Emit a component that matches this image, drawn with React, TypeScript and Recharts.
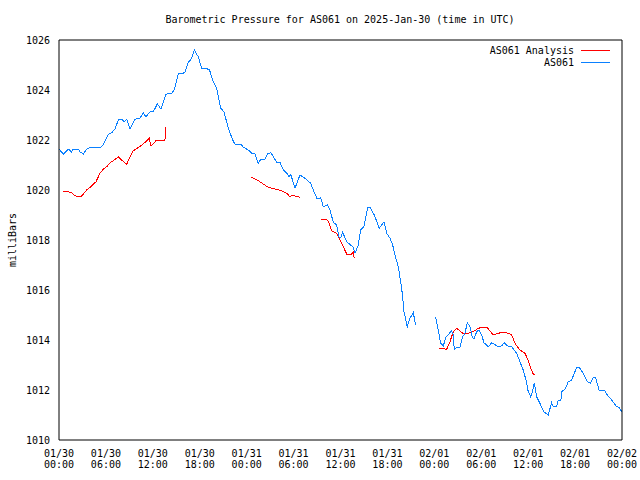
import { LineChart, Line, XAxis, YAxis, Legend } from 'recharts'

// hours since 01/30 00:00 UTC, null = gap in the record
const analysisHours = [
  0.47, 1.19, 1.62, 2.05, 2.47, 2.81, 3.11, 3.54, 4.18, 4.73, 5.24, 5.66, 6.1, 6.52, 7.07, 7.58,
  8.15, 8.66, 9.08, 9.5, 10.01, 10.58, 11.21, 11.55, 11.76, 12.49, 13.55, 13.68, 14,
  24.55, 25.19, 25.7, 26.13, 26.64, 27.2, 27.84, 28.48, 29.12, 29.54, 29.89, 30.31, 30.82, 31.5,
  33.5, 34.14, 34.44, 34.87, 35.51, 35.93, 36.36, 36.79, 37.43, 37.63, 37.76, 39,
  48.63, 49.58, 50.0, 50.42, 50.86, 51.62, 52.34, 52.98, 53.62, 54.26, 54.69, 55.12, 55.54,
  56.18, 56.82, 57.46, 57.89, 58.31, 58.95, 59.59, 59.89, 60.32, 60.65, 60.87,
]
const analysisMb = [
  1019.96, 1019.93, 1019.89, 1019.77, 1019.73, 1019.73, 1019.84, 1020.0, 1020.16, 1020.33,
  1020.67, 1020.83, 1020.93, 1021.09, 1021.2, 1021.33, 1021.16, 1021.03, 1021.33, 1021.57,
  1021.67, 1021.8, 1021.96, 1022.07, 1021.76, 1022.0, 1022.0, 1022.53, null,
  1020.51, 1020.43, 1020.33, 1020.24, 1020.13, 1020.07, 1020.03, 1019.96, 1019.87, 1019.73,
  1019.8, 1019.74, 1019.71, null,
  1018.83, 1018.83, 1018.76, 1018.37, 1018.27, 1018.0, 1017.73, 1017.44, 1017.44, 1017.51, 1017.27, null,
  1013.67, 1013.63, 1013.93, 1014.33, 1014.47, 1014.27, 1014.27, 1014.33, 1014.47, 1014.51,
  1014.51, 1014.37, 1014.2, 1014.27, 1014.31, 1014.27, 1014.2, 1013.87, 1013.6, 1013.47,
  1013.27, 1012.87, 1012.64, 1012.64,
]

const stationHours = [
  0, 0.55, 1.19, 1.62, 1.83, 2.47, 2.69, 3.11, 3.54, 4.18, 5.03, 5.24, 5.66, 6.3, 6.74, 7.16,
  7.58, 8.02, 8.31, 8.66, 9.08, 9.72, 10.36, 10.78, 11.09, 11.64, 12.06, 12.57, 13.04, 13.68,
  14.41, 14.74, 15.26, 15.9, 16.15, 16.46, 16.97, 17.3, 17.81, 18.25, 19.22, 19.73, 20.17,
  20.68, 21.1, 21.65, 22.21, 22.51, 23.27, 23.57, 24.21, 24.64, 25.06, 25.49, 25.79, 26.34,
  26.64, 27.11, 27.84, 28.26, 28.61, 29.12, 29.45, 29.63, 30.18, 30.82, 31.46, 32.19, 32.61,
  33.03, 33.47, 33.8, 34.31, 34.65, 35.08, 35.51, 35.81, 36.06, 36.28, 36.79, 37.63, 37.85,
  38.27, 38.58, 39.0, 39.48, 39.77, 40.32, 40.96, 41.56, 41.91, 42.33, 42.67, 42.97, 43.39,
  43.82, 43.93, 44.12, 44.54, 44.88, 45.31, 45.61, 46.5,
  48.17, 48.5, 48.81, 49.14, 49.49, 50.22, 50.42, 50.55, 50.86, 51.28, 51.62, 51.92, 52.21,
  52.56, 52.85, 53.07, 53.41, 53.71, 54.05, 54.35, 54.9, 55.33, 56.18, 56.61, 56.95, 57.33,
  57.89, 58.53, 58.95, 59.37, 59.72, 60.01, 60.32, 60.58, 60.78, 61.09, 61.6, 62.02, 62.57,
  63.0, 63.21, 63.64, 63.85, 64.19, 64.28, 64.71, 65.13, 65.56, 66.2, 66.53, 67.05, 67.56,
  67.99, 68.25, 68.63, 69.05, 69.82, 70.11, 70.68, 71.32, 71.65, 71.96,
]
const stationMb = [
  1021.64, 1021.44, 1021.64, 1021.52, 1021.64, 1021.64, 1021.52, 1021.44, 1021.64, 1021.72,
  1021.72, 1021.68, 1021.8, 1022.23, 1022.29, 1022.44, 1022.8, 1022.83, 1022.73, 1022.83,
  1022.44, 1022.83, 1022.87, 1023.09, 1022.93, 1023.12, 1023.13, 1023.44, 1023.24, 1023.83,
  1023.87, 1024.0, 1024.64, 1024.67, 1024.73, 1025.07, 1025.27, 1025.6, 1025.33, 1024.87,
  1024.83, 1024.33, 1024.07, 1023.27, 1023.13, 1022.47, 1022.0, 1021.83, 1021.83, 1021.71,
  1021.6, 1021.47, 1021.44, 1021.07, 1021.23, 1021.23, 1021.44, 1021.49, 1021.11, 1021.11,
  1020.84, 1020.67, 1020.53, 1020.63, 1020.07, 1020.6, 1020.47, 1020.27, 1019.93, 1019.64,
  1019.69, 1019.33, 1019.4, 1019.2, 1018.71, 1018.6, 1018.11, 1018.11, 1018.31, 1017.93,
  1017.71, 1017.47, 1017.8, 1018.4, 1018.53, 1019.31, 1019.31, 1019.0, 1018.47, 1018.72,
  1018.27, 1018.07, 1017.8, 1017.4, 1016.93, 1016.07, 1015.76, 1015.13, 1014.53, 1014.87,
  1015.09, 1014.6, null,
  1014.91, 1014.4, 1013.87, 1013.76, 1014.11, 1014.37, 1014.2, 1013.6, 1013.71, 1013.71,
  1014.13, 1014.27, 1014.69, 1014.53, 1014.13, 1014.03, 1014.33, 1014.4, 1014.2, 1013.89,
  1013.73, 1013.89, 1013.73, 1013.77, 1013.89, 1013.77, 1013.73, 1013.47, 1013.13, 1012.8,
  1012.4, 1011.93, 1011.73, 1011.97, 1012.29, 1011.73, 1011.4, 1011.13, 1011.0, 1011.49,
  1011.33, 1011.36, 1011.6, 1011.6, 1011.93, 1012.03, 1012.33, 1012.4, 1012.91, 1012.91,
  1012.67, 1012.33, 1012.27, 1012.47, 1012.51, 1012.0, 1011.97, 1011.8, 1011.6, 1011.33,
  1011.31, 1011.13,
]

const majorHours = [0, 6, 12, 18, 24, 30, 36, 42, 48, 54, 60, 66, 72]
const minorHours = [
  2, 4, 8, 10, 14, 16, 20, 22, 26, 28, 32, 34, 38, 40, 44, 46, 50, 52, 56, 58, 62, 64, 68, 70,
]
const tickDates = ['01/30', '01/30', '01/30', '01/30', '01/31', '01/31', '01/31', '01/31', '02/01', '02/01', '02/01', '02/01', '02/02']
const tickTimes = ['00:00', '06:00', '12:00', '18:00', '00:00', '06:00', '12:00', '18:00', '00:00', '06:00', '12:00', '18:00', '00:00']
const pressureTicks = [1010, 1012, 1014, 1016, 1018, 1020, 1022, 1024, 1026]
const seriesOrder = ['AS061 Analysis', 'AS061']

const FONT = "'DejaVu Sans Mono', monospace"
const RED = '#ff0000'
const BLUE = '#0a80ff'

const rows = (hours: number[], mb: (number | null)[]) => hours.map((t, i) => ({ t, v: mb[i] }))
const analysisData = rows(analysisHours, analysisMb)
const stationData = rows(stationHours, stationMb)

function TimeTick({ x, y, payload }: any) {
  const i = majorHours.indexOf(payload.value)
  return (
    <text x={x} y={y} textAnchor="middle" fontFamily={FONT} fontSize={10} fill="#000">
      <tspan x={x} dy={17}>{tickDates[i]}</tspan>
      <tspan x={x} dy={11}>{tickTimes[i]}</tspan>
    </text>
  )
}

function renderLegend({ payload }: any) {
  const items = [...(payload || [])].sort(
    (a: any, b: any) => seriesOrder.indexOf(a.value) - seriesOrder.indexOf(b.value),
  )
  return (
    <svg width={150} height={30}>
      {items.map((p: any, i: number) => (
        <g key={p.value}>
          <text x={104} y={14 + i * 12} textAnchor="end" fontFamily={FONT} fontSize={10} fill="#000">
            {p.value}
          </text>
          <line x1={111} x2={140} y1={10.5 + i * 12} y2={10.5 + i * 12} stroke={p.color} strokeWidth={1} />
        </g>
      ))}
    </svg>
  )
}

const tl = { stroke: '#000' }
const crisp = { shapeRendering: 'crispEdges' as const }

export default function App() {
  return (
    <div style={{ position: 'absolute', left: 0, top: 0, width: 640, height: 480, background: '#fff' }}>
      <LineChart width={640} height={480} margin={{ top: 40, right: 18, bottom: 0, left: 0 }}>
        <XAxis xAxisId="b" type="number" dataKey="t" domain={[0, 72]} allowDataOverflow ticks={majorHours}
          height={40} tickSize={0} tickMargin={0} tickLine={false} axisLine={tl} tick={<TimeTick />} />
        <XAxis xAxisId="bMaj" type="number" domain={[0, 72]} allowDataOverflow ticks={majorHours}
          mirror height={1} tick={false} tickSize={6} tickLine={tl} axisLine={false} />
        <XAxis xAxisId="bMin" type="number" domain={[0, 72]} allowDataOverflow ticks={minorHours}
          mirror height={1} tick={false} tickSize={3} tickLine={tl} axisLine={false} />
        <XAxis xAxisId="tMaj" orientation="top" type="number" domain={[0, 72]} allowDataOverflow ticks={majorHours}
          mirror height={1} tick={false} tickSize={6} tickLine={tl} axisLine={tl} />
        <XAxis xAxisId="tMin" orientation="top" type="number" domain={[0, 72]} allowDataOverflow ticks={minorHours}
          mirror height={1} tick={false} tickSize={3} tickLine={tl} axisLine={false} />
        <YAxis yAxisId="l" type="number" domain={[1010, 1026]} allowDataOverflow ticks={pressureTicks}
          width={59} tickSize={0} tickMargin={9} tickLine={false} axisLine={tl}
          tick={{ fontFamily: FONT, fontSize: 10, fill: '#000' }} />
        <YAxis yAxisId="lMaj" type="number" domain={[1010, 1026]} allowDataOverflow ticks={pressureTicks}
          mirror width={1} tick={false} tickSize={6} tickLine={tl} axisLine={false} />
        <YAxis yAxisId="rMaj" orientation="right" type="number" domain={[1010, 1026]} allowDataOverflow ticks={pressureTicks}
          mirror width={1} tick={false} tickSize={6} tickLine={tl} axisLine={tl} />
        <Legend layout="vertical" align="center" verticalAlign="middle" content={renderLegend}
          wrapperStyle={{ top: 40, left: 470, width: 150, height: 30 }} />
        <Line xAxisId="b" yAxisId="l" data={analysisData} dataKey="v" name="AS061 Analysis" type="linear"
          stroke={RED} strokeWidth={1} dot={false} activeDot={false} isAnimationActive={false} style={crisp} />
        <Line xAxisId="b" yAxisId="l" data={stationData} dataKey="v" name="AS061" type="linear"
          stroke={BLUE} strokeWidth={1} dot={false} activeDot={false} isAnimationActive={false} style={crisp} />
      </LineChart>
      <svg width={640} height={480} style={{ position: 'absolute', left: 0, top: 0, pointerEvents: 'none' }}>
        <text x={340} y={23} textAnchor="middle" fontFamily={FONT} fontSize={10} fill="#000">
          Barometric Pressure for AS061 on 2025-Jan-30 (time in UTC)
        </text>
        <text x={16} y={240} textAnchor="middle" transform="rotate(-90 16 240)" fontFamily={FONT} fontSize={10} fill="#000">
          milliBars
        </text>
      </svg>
    </div>
  )
}
